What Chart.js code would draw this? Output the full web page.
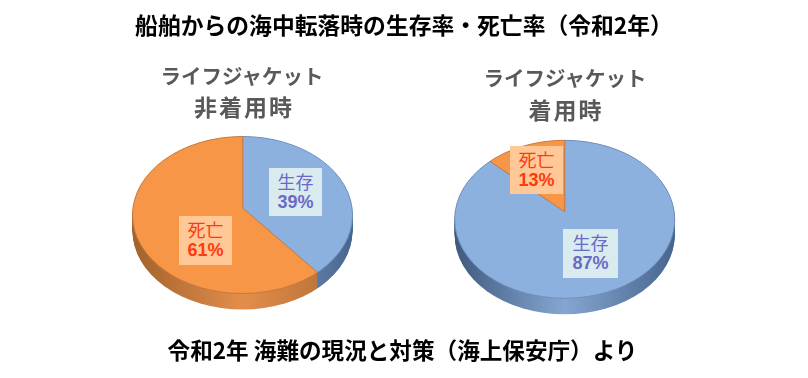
<!DOCTYPE html>
<html lang="ja"><head><meta charset="utf-8">
<script src="https://cdn.jsdelivr.net/npm/chart.js@4/dist/chart.umd.min.js"></script>
<style>
html,body{margin:0;padding:0;background:#fff}
#stage{position:relative;width:808px;height:378px;overflow:hidden;font-family:"Noto Sans CJK JP","Noto Sans",sans-serif}
canvas{position:absolute;top:0}
.t{position:absolute;white-space:nowrap;transform:translateX(-50%);line-height:1;font-weight:700}
.box{position:absolute;text-align:center;box-sizing:border-box;font-size:18px;line-height:21px;padding-top:3px}
.box b{display:block;font-family:"Liberation Sans",sans-serif;font-weight:700;font-size:18px}
.box span{display:block;font-weight:400}
</style></head><body>
<div id="stage">
<canvas id="c0" width="404" height="378" style="left:0"></canvas>
<canvas id="c1" width="404" height="378" style="left:404px"></canvas>
</div>
<script>
const categories = ["生存", "死亡"];
const withoutJacket = [39, 61];
const withJacket = [87, 13];
const chartTitle = "船舶からの海中転落時の生存率・死亡率（令和2年）";
const chartSource = "令和2年 海難の現況と対策（海上保安庁）より";
const panelTitles = [["ライフジャケット", "非着用時"], ["ライフジャケット", "着用時"]];
const faceColors = ["#8DB1DF", "#F79646"];
const edgeColors = ["#6F8FBC", "#C9783C"];
const wallColors = [["#3F5A7E", "#86A6D2", "#47658C"], ["#A2622C", "#E38D4B", "#B06C34"]];
const boxColors = ["#DAEBEF", "#FFC896"];
const textColors = ["#6A6AC8", "#FF3A10"];

const stage = document.getElementById("stage");
function addText(str, cx, top, size, color, spacing) {
  const d = document.createElement("div");
  d.className = "t"; d.textContent = str;
  d.style.left = cx + "px"; d.style.top = top + "px";
  d.style.fontSize = size + "px"; d.style.color = color;
  if (spacing) d.style.letterSpacing = spacing + "px";
  stage.appendChild(d);
}
addText(chartTitle, 404, 14, 22.8, "#000");
addText(chartSource, 402.5, 339, 22.6, "#000");
addText(panelTitles[0][0], 242, 65, 20.5, "#595959");
addText(panelTitles[0][1], 244, 95, 23, "#595959", 2);
addText(panelTitles[1][0], 565, 67, 20.5, "#595959");
addText(panelTitles[1][1], 566, 98, 23, "#595959", 2);

const pie3d = {
  id: "pie3d",
  beforeDatasetsDraw(chart, args, g) {
    const ctx = chart.ctx, arcs = chart.getDatasetMeta(0).data;
    const k = g.ry / g.rx, c0 = arcs[0];
    for (let d = g.depth; d >= 1; d--) {
      ctx.save();
      ctx.beginPath(); ctx.ellipse(g.cx, g.cy + d, g.rx, g.ry, 0, 0, Math.PI * 2); ctx.clip();
      ctx.translate(g.ax, g.ay + d); ctx.scale(1, k); ctx.translate(-c0.x, -c0.y);
      arcs.forEach((a, i) => {
        const off = g.ax - c0.x;
        const gr = ctx.createLinearGradient(g.cx - g.rx - off, 0, g.cx + g.rx - off, 0);
        gr.addColorStop(0, wallColors[i][0]); gr.addColorStop(0.5, wallColors[i][1]); gr.addColorStop(1, wallColors[i][2]);
        ctx.fillStyle = gr;
        ctx.beginPath(); ctx.moveTo(a.x, a.y);
        ctx.arc(a.x, a.y, a.outerRadius, a.startAngle, a.endAngle); ctx.closePath(); ctx.fill();
      });
      ctx.restore();
    }
    ctx.save();
    ctx.beginPath(); ctx.ellipse(g.cx, g.cy, g.rx, g.ry, 0, 0, Math.PI * 2); ctx.clip();
    ctx.translate(g.ax, g.ay); ctx.scale(1, k); ctx.translate(-c0.x, -c0.y);
  },
  afterDatasetsDraw(chart, args, g) {
    const ctx = chart.ctx, arcs = chart.getDatasetMeta(0).data;
    ctx.restore();
    const k = g.ry / g.rx, c0 = arcs[0];
    arcs.forEach((a, i) => {
      ctx.save();
      ctx.beginPath(); ctx.moveTo(g.ax, g.ay);
      ctx.transform(1, 0, 0, k, g.ax - c0.x, g.ay - k * c0.y);
      ctx.arc(a.x, a.y, a.outerRadius, a.startAngle, a.endAngle); ctx.closePath();
      ctx.setTransform(1, 0, 0, 1, 0, 0);
      ctx.clip();
      ctx.beginPath(); ctx.ellipse(g.cx, g.cy, g.rx, g.ry, 0, 0, Math.PI * 2);
      ctx.strokeStyle = edgeColors[i]; ctx.lineWidth = 1; ctx.stroke();
      ctx.restore();
    });
  }
};

function makePie(id, values, geo) {
  new Chart(document.getElementById(id), {
    type: "pie",
    data: { labels: categories, datasets: [{ data: values, backgroundColor: faceColors, borderColor: edgeColors, borderWidth: 1 }] },
    options: {
      responsive: false, animation: false, events: [],
      layout: { padding: 0 },
      plugins: { legend: { display: false }, tooltip: { enabled: false }, pie3d: geo }
    },
    plugins: [pie3d]
  });
}
makePie("c0", withoutJacket, { cx: 242.5, cy: 215, rx: 110, ry: 78.5, ax: 242.7, ay: 208, depth: 16 });
makePie("c1", withJacket, { cx: 160.7, cy: 219.3, rx: 110, ry: 79, ax: 160.7, ay: 211.7, depth: 16 });

function addBox(i, value, x, y, w, h) {
  const d = document.createElement("div");
  d.className = "box";
  d.style.cssText += `left:${x}px;top:${y}px;width:${w}px;height:${h}px;background:${boxColors[i]};color:${textColors[i]}`;
  const s = document.createElement("span"); s.textContent = categories[i];
  const b = document.createElement("b"); b.textContent = value + "%";
  d.append(s, b); stage.appendChild(d);
}
addBox(0, withoutJacket[0], 269, 168, 53, 48);
addBox(1, withoutJacket[1], 179, 216, 53, 49);
addBox(1, withJacket[1], 510, 146, 53, 48);
addBox(0, withJacket[0], 563, 229, 55, 49);
</script>
</body></html>
